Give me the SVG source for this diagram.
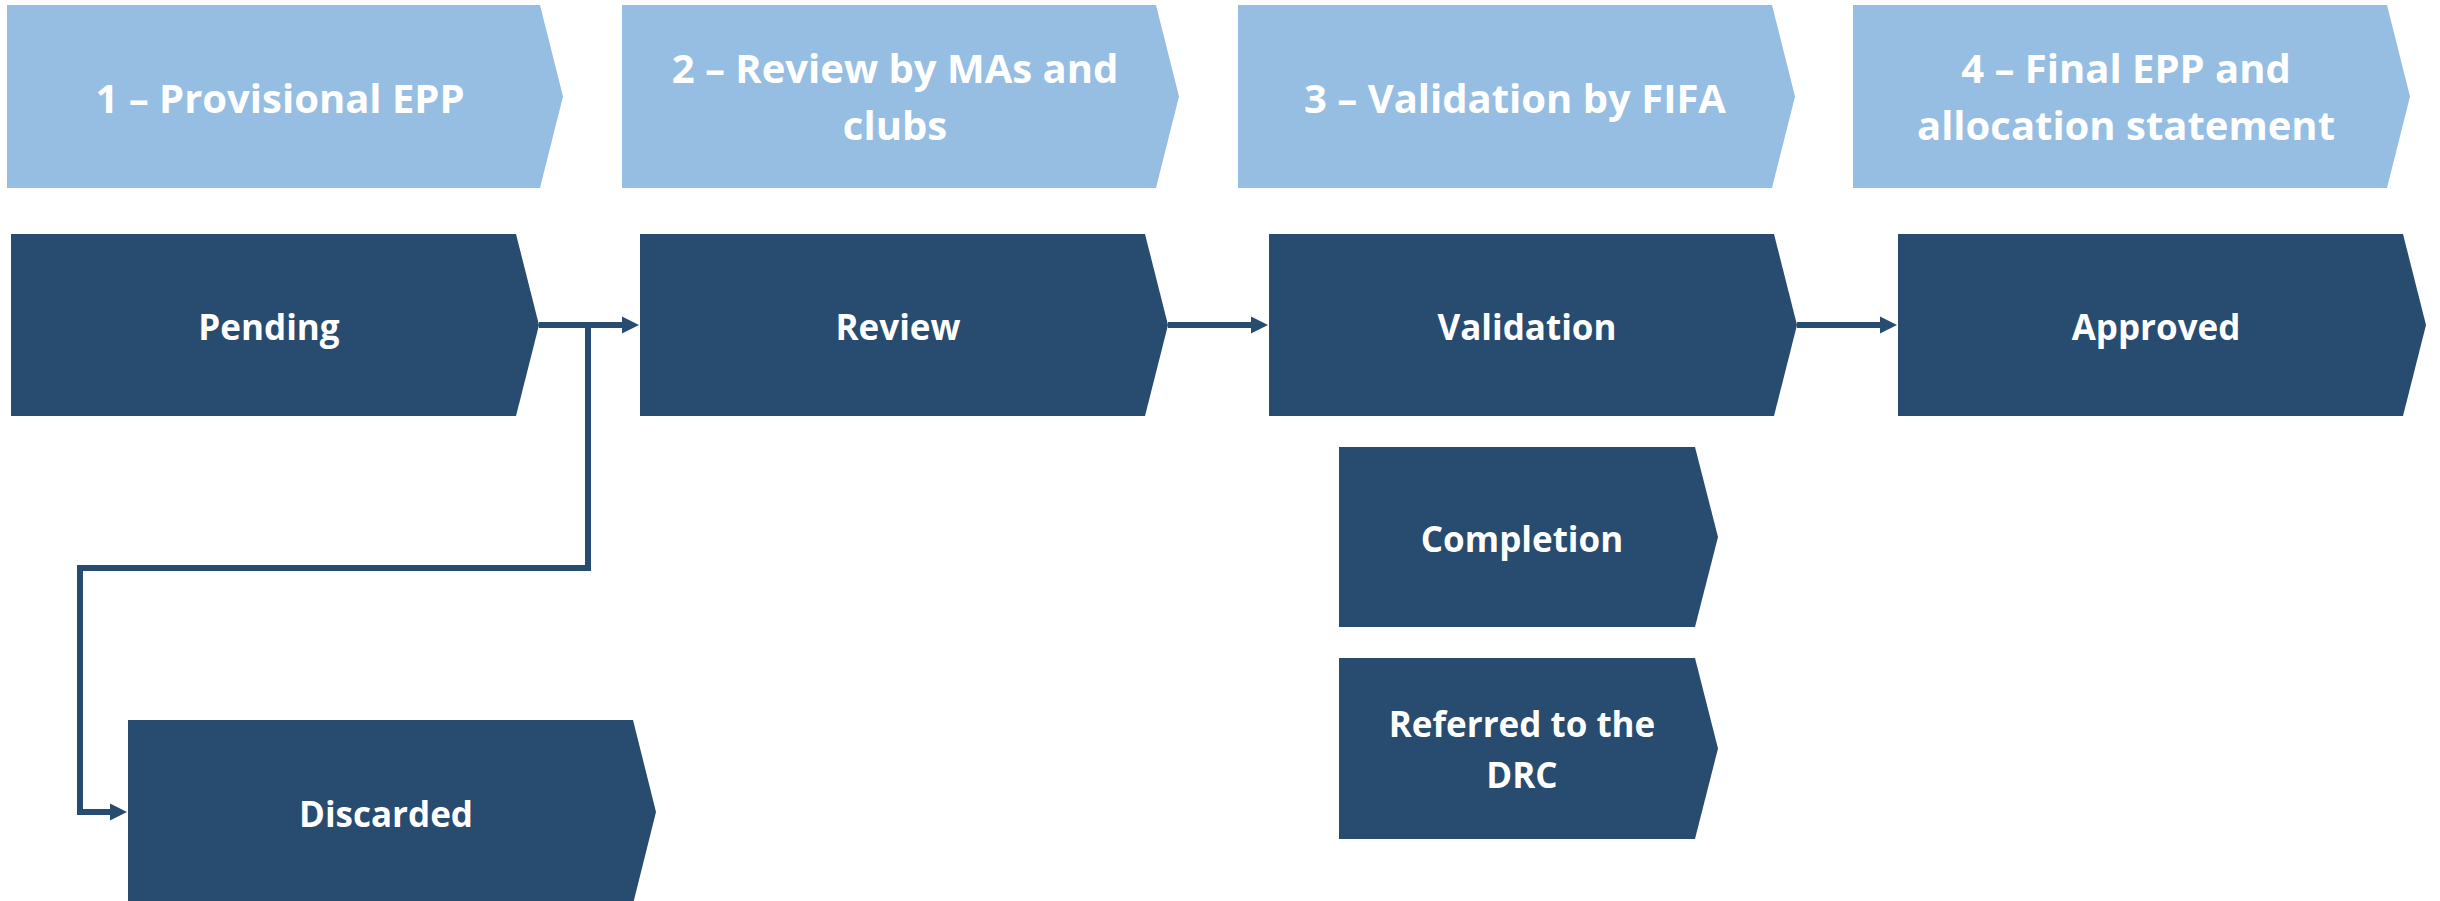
<svg xmlns="http://www.w3.org/2000/svg" width="2440" height="901" viewBox="0 0 2440 901">
<style>
.hdr{fill:#95BEE2}
.box{fill:#284B70}
.t{font-family:"Open Sans","Liberation Sans",sans-serif;font-weight:700;fill:#FFFFFF;text-anchor:middle}
.th{font-size:40px}
.tb{font-size:35px}
.conn{fill:none;stroke:#284B70;stroke-width:6;stroke-linejoin:miter}
</style>
<defs>
<marker id="ah" markerUnits="userSpaceOnUse" markerWidth="18" markerHeight="18" refX="1" refY="8.5" orient="auto" viewBox="0 0 18 17">
<polygon points="0,0 17,8.5 0,17" fill="#284B70"/>
</marker>
</defs>
<rect width="2440" height="901" fill="#FFFFFF"/>

<g id="header1">
<polygon class="hdr" points="7,5 540,5 563,96.5 540,188 7,188"/>
<text class="t th" x="280" y="113">1 – Provisional EPP</text>
</g>
<g id="header2">
<polygon class="hdr" points="622,5 1156,5 1179,96.5 1156,188 622,188"/>
<text class="t th" x="895" y="83">2 – Review by MAs and</text>
<text class="t th" x="895" y="140">clubs</text>
</g>
<g id="header3">
<polygon class="hdr" points="1238,5 1772,5 1795,96.5 1772,188 1238,188"/>
<text class="t th" x="1515" y="113">3 – Validation by FIFA</text>
</g>
<g id="header4">
<polygon class="hdr" points="1853,5 2387,5 2410,96.5 2387,188 1853,188"/>
<text class="t th" x="2126" y="83">4 – Final EPP and</text>
<text class="t th" x="2126" y="140">allocation statement</text>
</g>

<g id="pending">
<polygon class="box" points="11,234 516,234 539,325 516,416 11,416"/>
<text class="t tb" x="269" y="340">Pending</text>
</g>
<g id="review">
<polygon class="box" points="640,234 1145,234 1168,325 1145,416 640,416"/>
<text class="t tb" x="898" y="340">Review</text>
</g>
<g id="validation">
<polygon class="box" points="1269,234 1774,234 1797,325 1774,416 1269,416"/>
<text class="t tb" x="1527" y="340">Validation</text>
</g>
<g id="approved">
<polygon class="box" points="1898,234 2403,234 2426,325 2403,416 1898,416"/>
<text class="t tb" x="2156" y="340">Approved</text>
</g>
<g id="completion">
<polygon class="box" points="1339,447 1695,447 1718,537 1695,627 1339,627"/>
<text class="t tb" x="1522" y="552">Completion</text>
</g>
<g id="referred">
<polygon class="box" points="1339,658 1695,658 1718,748.5 1695,839 1339,839"/>
<text class="t tb" x="1522" y="737">Referred to the</text>
<text class="t tb" x="1522" y="788">DRC</text>
</g>
<g id="discarded">
<polygon class="box" points="128,720 633,720 656,812 633,904 128,904"/>
<text class="t tb" x="386" y="827">Discarded</text>
</g>

<g id="connectors">
<path class="conn" d="M539,325 H623" marker-end="url(#ah)"/>
<path class="conn" d="M588,325 V568 H80 V812 H111" marker-end="url(#ah)"/>
<path class="conn" d="M1168,325 H1252" marker-end="url(#ah)"/>
<path class="conn" d="M1797,325 H1881" marker-end="url(#ah)"/>
</g>
</svg>
